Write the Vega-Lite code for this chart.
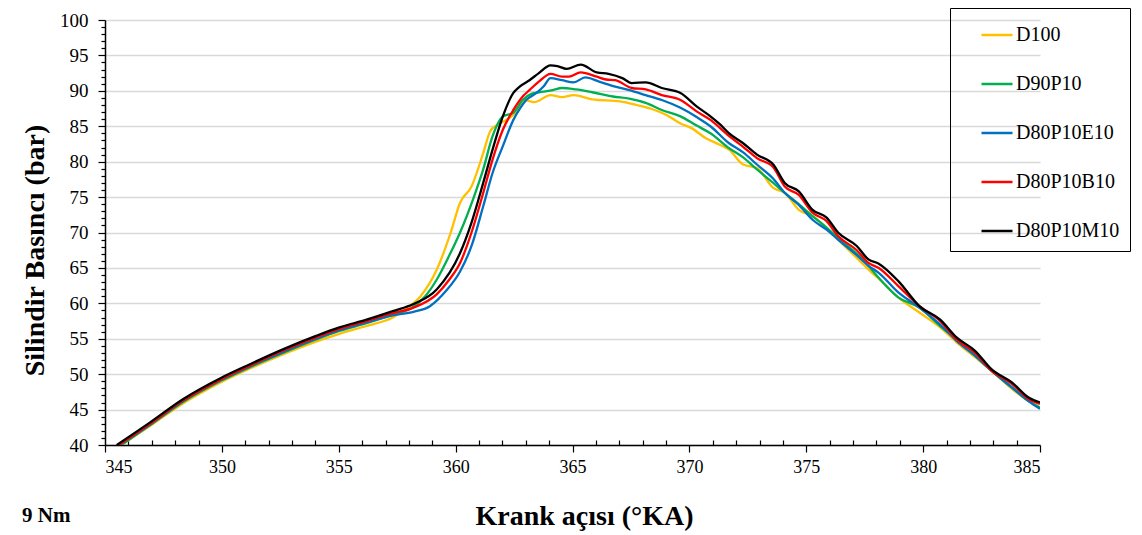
{
  "$schema": "https://vega.github.io/schema/vega-lite/v6.json",
  "width": 935,
  "height": 425,
  "autosize": "none",
  "padding": {"left": 105, "top": 20, "right": 102, "bottom": 90},
  "background": "white",
  "config": {"view": {"stroke": null}, "font": "'Liberation Serif', 'Times New Roman', serif"},
  "title": {"text": "9 Nm", "orient": "bottom", "anchor": "start", "frame": "group", "font": "'Liberation Serif', 'Times New Roman', serif", "fontSize": 21, "fontWeight": "bold", "color": "black", "baseline": "alphabetic", "dx": -83, "dy": -8, "offset": 0},
  "data": {"values": [
    {"fuel":"D100","angle":345.7,"pressure":40},{"fuel":"D100","angle":346.93,"pressure":42.7},{"fuel":"D100","angle":348.35,"pressure":45.9},{"fuel":"D100","angle":349.98,"pressure":48.9},{"fuel":"D100","angle":351.2,"pressure":50.8},{"fuel":"D100","angle":352.61,"pressure":52.8},{"fuel":"D100","angle":354.03,"pressure":54.6},{"fuel":"D100","angle":355.03,"pressure":55.7},{"fuel":"D100","angle":356.19,"pressure":56.8},{"fuel":"D100","angle":357.31,"pressure":58.0},{"fuel":"D100","angle":358.0,"pressure":59.5},{"fuel":"D100","angle":358.5,"pressure":61.0},{"fuel":"D100","angle":359.2,"pressure":64.8},{"fuel":"D100","angle":359.79,"pressure":70.0},{"fuel":"D100","angle":360.19,"pressure":74.2},{"fuel":"D100","angle":360.68,"pressure":76.5},{"fuel":"D100","angle":361.18,"pressure":81.2},{"fuel":"D100","angle":361.48,"pressure":84.3},{"fuel":"D100","angle":361.78,"pressure":85.2},{"fuel":"D100","angle":362.17,"pressure":85.9},{"fuel":"D100","angle":362.57,"pressure":86.9},{"fuel":"D100","angle":362.97,"pressure":88.7},{"fuel":"D100","angle":363.36,"pressure":88.4},{"fuel":"D100","angle":364.06,"pressure":89.4},{"fuel":"D100","angle":364.55,"pressure":89.1},{"fuel":"D100","angle":365.05,"pressure":89.4},{"fuel":"D100","angle":365.84,"pressure":88.8},{"fuel":"D100","angle":367.03,"pressure":88.5},{"fuel":"D100","angle":367.73,"pressure":88.0},{"fuel":"D100","angle":368.42,"pressure":87.4},{"fuel":"D100","angle":369.02,"pressure":86.6},{"fuel":"D100","angle":369.62,"pressure":85.4},{"fuel":"D100","angle":370.11,"pressure":84.7},{"fuel":"D100","angle":370.71,"pressure":83.3},{"fuel":"D100","angle":371.3,"pressure":82.4},{"fuel":"D100","angle":371.7,"pressure":81.7},{"fuel":"D100","angle":372.3,"pressure":79.6},{"fuel":"D100","angle":372.89,"pressure":79.1},{"fuel":"D100","angle":373.59,"pressure":76.3},{"fuel":"D100","angle":374.08,"pressure":75.6},{"fuel":"D100","angle":374.68,"pressure":73.2},{"fuel":"D100","angle":375.27,"pressure":72.3},{"fuel":"D100","angle":376.36,"pressure":69.0},{"fuel":"D100","angle":377.66,"pressure":64.8},{"fuel":"D100","angle":378.35,"pressure":62.7},{"fuel":"D100","angle":378.95,"pressure":60.8},{"fuel":"D100","angle":379.84,"pressure":58.7},{"fuel":"D100","angle":380.73,"pressure":56.6},{"fuel":"D100","angle":381.43,"pressure":54.5},{"fuel":"D100","angle":382.22,"pressure":52.4},{"fuel":"D100","angle":382.92,"pressure":50.5},{"fuel":"D100","angle":383.81,"pressure":47.9},{"fuel":"D100","angle":384.51,"pressure":46.2},{"fuel":"D100","angle":385,"pressure":45.3},

    {"fuel":"D90P10","angle":345.7,"pressure":40},{"fuel":"D90P10","angle":346.93,"pressure":42.8},{"fuel":"D90P10","angle":348.35,"pressure":46.1},{"fuel":"D90P10","angle":349.98,"pressure":49.1},{"fuel":"D90P10","angle":351.2,"pressure":51.0},{"fuel":"D90P10","angle":352.61,"pressure":53.0},{"fuel":"D90P10","angle":354.03,"pressure":54.9},{"fuel":"D90P10","angle":355.03,"pressure":56.1},{"fuel":"D90P10","angle":356.19,"pressure":57.2},{"fuel":"D90P10","angle":357.31,"pressure":58.4},{"fuel":"D90P10","angle":358.1,"pressure":59.3},{"fuel":"D90P10","angle":358.7,"pressure":61.0},{"fuel":"D90P10","angle":359.2,"pressure":63.4},{"fuel":"D90P10","angle":359.69,"pressure":66.5},{"fuel":"D90P10","angle":360.19,"pressure":70.0},{"fuel":"D90P10","angle":360.78,"pressure":75.0},{"fuel":"D90P10","angle":361.18,"pressure":78.9},{"fuel":"D90P10","angle":361.58,"pressure":83.6},{"fuel":"D90P10","angle":362.02,"pressure":86.4},{"fuel":"D90P10","angle":362.47,"pressure":86.9},{"fuel":"D90P10","angle":362.87,"pressure":88.7},{"fuel":"D90P10","angle":363.26,"pressure":89.6},{"fuel":"D90P10","angle":363.56,"pressure":89.8},{"fuel":"D90P10","angle":364.16,"pressure":90.1},{"fuel":"D90P10","angle":364.55,"pressure":90.4},{"fuel":"D90P10","angle":365.15,"pressure":90.2},{"fuel":"D90P10","angle":365.84,"pressure":89.8},{"fuel":"D90P10","angle":366.73,"pressure":89.2},{"fuel":"D90P10","angle":367.43,"pressure":88.9},{"fuel":"D90P10","angle":368.13,"pressure":88.3},{"fuel":"D90P10","angle":368.82,"pressure":87.3},{"fuel":"D90P10","angle":369.62,"pressure":86.4},{"fuel":"D90P10","angle":370.31,"pressure":85.1},{"fuel":"D90P10","angle":370.9,"pressure":84.0},{"fuel":"D90P10","angle":371.7,"pressure":81.9},{"fuel":"D90P10","angle":372.3,"pressure":80.6},{"fuel":"D90P10","angle":372.89,"pressure":78.9},{"fuel":"D90P10","angle":373.59,"pressure":77.0},{"fuel":"D90P10","angle":374.08,"pressure":75.6},{"fuel":"D90P10","angle":374.68,"pressure":74.0},{"fuel":"D90P10","angle":375.27,"pressure":72.3},{"fuel":"D90P10","angle":375.87,"pressure":70.7},{"fuel":"D90P10","angle":376.36,"pressure":69.2},{"fuel":"D90P10","angle":377.16,"pressure":67.0},{"fuel":"D90P10","angle":377.66,"pressure":65.3},{"fuel":"D90P10","angle":378.1,"pressure":63.6},{"fuel":"D90P10","angle":378.95,"pressure":60.8},{"fuel":"D90P10","angle":379.84,"pressure":59.4},{"fuel":"D90P10","angle":380.73,"pressure":56.8},{"fuel":"D90P10","angle":381.43,"pressure":54.9},{"fuel":"D90P10","angle":382.22,"pressure":52.6},{"fuel":"D90P10","angle":382.92,"pressure":50.5},{"fuel":"D90P10","angle":383.81,"pressure":48.1},{"fuel":"D90P10","angle":384.51,"pressure":46.2},{"fuel":"D90P10","angle":385,"pressure":45.3},

    {"fuel":"D80P10E10","angle":345.6,"pressure":40},{"fuel":"D80P10E10","angle":346.93,"pressure":42.9},{"fuel":"D80P10E10","angle":348.35,"pressure":46.2},{"fuel":"D80P10E10","angle":349.98,"pressure":49.2},{"fuel":"D80P10E10","angle":351.2,"pressure":51.1},{"fuel":"D80P10E10","angle":352.61,"pressure":53.1},{"fuel":"D80P10E10","angle":354.03,"pressure":55.0},{"fuel":"D80P10E10","angle":355.03,"pressure":56.2},{"fuel":"D80P10E10","angle":356.19,"pressure":57.3},{"fuel":"D80P10E10","angle":357.31,"pressure":58.3},{"fuel":"D80P10E10","angle":358.2,"pressure":58.8},{"fuel":"D80P10E10","angle":358.9,"pressure":59.6},{"fuel":"D80P10E10","angle":359.6,"pressure":61.8},{"fuel":"D80P10E10","angle":360.19,"pressure":64.5},{"fuel":"D80P10E10","angle":360.68,"pressure":68.1},{"fuel":"D80P10E10","angle":361.18,"pressure":73.7},{"fuel":"D80P10E10","angle":361.58,"pressure":78.4},{"fuel":"D80P10E10","angle":362.02,"pressure":82.2},{"fuel":"D80P10E10","angle":362.47,"pressure":85.9},{"fuel":"D80P10E10","angle":362.77,"pressure":87.6},{"fuel":"D80P10E10","angle":363.02,"pressure":88.7},{"fuel":"D80P10E10","angle":363.46,"pressure":89.7},{"fuel":"D80P10E10","angle":363.76,"pressure":90.6},{"fuel":"D80P10E10","angle":364.06,"pressure":91.8},{"fuel":"D80P10E10","angle":364.55,"pressure":91.5},{"fuel":"D80P10E10","angle":365.05,"pressure":91.2},{"fuel":"D80P10E10","angle":365.55,"pressure":91.9},{"fuel":"D80P10E10","angle":366.14,"pressure":91.3},{"fuel":"D80P10E10","angle":366.83,"pressure":90.6},{"fuel":"D80P10E10","angle":367.43,"pressure":90.1},{"fuel":"D80P10E10","angle":368.13,"pressure":89.4},{"fuel":"D80P10E10","angle":368.82,"pressure":88.7},{"fuel":"D80P10E10","angle":369.62,"pressure":87.6},{"fuel":"D80P10E10","angle":370.31,"pressure":86.3},{"fuel":"D80P10E10","angle":370.9,"pressure":85.0},{"fuel":"D80P10E10","angle":371.7,"pressure":82.6},{"fuel":"D80P10E10","angle":372.3,"pressure":81.3},{"fuel":"D80P10E10","angle":372.89,"pressure":79.6},{"fuel":"D80P10E10","angle":373.59,"pressure":77.6},{"fuel":"D80P10E10","angle":374.08,"pressure":75.6},{"fuel":"D80P10E10","angle":374.68,"pressure":73.9},{"fuel":"D80P10E10","angle":375.27,"pressure":71.8},{"fuel":"D80P10E10","angle":375.87,"pressure":70.4},{"fuel":"D80P10E10","angle":376.36,"pressure":69.0},{"fuel":"D80P10E10","angle":377.16,"pressure":66.8},{"fuel":"D80P10E10","angle":377.66,"pressure":65.3},{"fuel":"D80P10E10","angle":378.1,"pressure":64.3},{"fuel":"D80P10E10","angle":378.95,"pressure":61.5},{"fuel":"D80P10E10","angle":379.84,"pressure":59.4},{"fuel":"D80P10E10","angle":380.73,"pressure":57.0},{"fuel":"D80P10E10","angle":381.43,"pressure":54.7},{"fuel":"D80P10E10","angle":382.22,"pressure":52.6},{"fuel":"D80P10E10","angle":382.92,"pressure":50.5},{"fuel":"D80P10E10","angle":383.81,"pressure":48.1},{"fuel":"D80P10E10","angle":384.51,"pressure":46.2},{"fuel":"D80P10E10","angle":385,"pressure":45.1},

    {"fuel":"D80P10B10","angle":345.6,"pressure":40},{"fuel":"D80P10B10","angle":346.93,"pressure":43.0},{"fuel":"D80P10B10","angle":348.35,"pressure":46.3},{"fuel":"D80P10B10","angle":349.98,"pressure":49.3},{"fuel":"D80P10B10","angle":351.2,"pressure":51.2},{"fuel":"D80P10B10","angle":352.61,"pressure":53.3},{"fuel":"D80P10B10","angle":354.03,"pressure":55.2},{"fuel":"D80P10B10","angle":355.03,"pressure":56.4},{"fuel":"D80P10B10","angle":356.19,"pressure":57.5},{"fuel":"D80P10B10","angle":357.31,"pressure":58.6},{"fuel":"D80P10B10","angle":358.2,"pressure":59.4},{"fuel":"D80P10B10","angle":359.2,"pressure":61.3},{"fuel":"D80P10B10","angle":359.74,"pressure":63.4},{"fuel":"D80P10B10","angle":360.19,"pressure":65.7},{"fuel":"D80P10B10","angle":360.68,"pressure":70.0},{"fuel":"D80P10B10","angle":361.18,"pressure":75.6},{"fuel":"D80P10B10","angle":361.58,"pressure":80.3},{"fuel":"D80P10B10","angle":362.02,"pressure":84.5},{"fuel":"D80P10B10","angle":362.47,"pressure":87.3},{"fuel":"D80P10B10","angle":362.87,"pressure":89.2},{"fuel":"D80P10B10","angle":363.16,"pressure":90.1},{"fuel":"D80P10B10","angle":363.56,"pressure":91.3},{"fuel":"D80P10B10","angle":364.06,"pressure":92.4},{"fuel":"D80P10B10","angle":364.55,"pressure":92.0},{"fuel":"D80P10B10","angle":364.85,"pressure":92.0},{"fuel":"D80P10B10","angle":365.35,"pressure":92.6},{"fuel":"D80P10B10","angle":366.04,"pressure":92.0},{"fuel":"D80P10B10","angle":366.44,"pressure":91.6},{"fuel":"D80P10B10","angle":366.83,"pressure":91.5},{"fuel":"D80P10B10","angle":367.53,"pressure":90.4},{"fuel":"D80P10B10","angle":368.13,"pressure":90.2},{"fuel":"D80P10B10","angle":368.82,"pressure":89.4},{"fuel":"D80P10B10","angle":369.62,"pressure":88.7},{"fuel":"D80P10B10","angle":370.31,"pressure":87.1},{"fuel":"D80P10B10","angle":370.9,"pressure":85.9},{"fuel":"D80P10B10","angle":371.7,"pressure":83.6},{"fuel":"D80P10B10","angle":372.3,"pressure":82.1},{"fuel":"D80P10B10","angle":372.89,"pressure":80.5},{"fuel":"D80P10B10","angle":373.59,"pressure":79.2},{"fuel":"D80P10B10","angle":374.08,"pressure":76.5},{"fuel":"D80P10B10","angle":374.68,"pressure":75.3},{"fuel":"D80P10B10","angle":375.27,"pressure":72.8},{"fuel":"D80P10B10","angle":375.87,"pressure":71.6},{"fuel":"D80P10B10","angle":376.36,"pressure":69.5},{"fuel":"D80P10B10","angle":377.16,"pressure":67.5},{"fuel":"D80P10B10","angle":377.66,"pressure":65.7},{"fuel":"D80P10B10","angle":378.1,"pressure":65.0},{"fuel":"D80P10B10","angle":378.95,"pressure":62.4},{"fuel":"D80P10B10","angle":379.84,"pressure":59.6},{"fuel":"D80P10B10","angle":380.73,"pressure":57.5},{"fuel":"D80P10B10","angle":381.43,"pressure":54.9},{"fuel":"D80P10B10","angle":382.22,"pressure":53.0},{"fuel":"D80P10B10","angle":382.92,"pressure":50.5},{"fuel":"D80P10B10","angle":383.81,"pressure":48.6},{"fuel":"D80P10B10","angle":384.51,"pressure":46.5},{"fuel":"D80P10B10","angle":385,"pressure":45.8},

    {"fuel":"D80P10M10","angle":345.5,"pressure":40},{"fuel":"D80P10M10","angle":346.93,"pressure":43.2},{"fuel":"D80P10M10","angle":348.35,"pressure":46.5},{"fuel":"D80P10M10","angle":349.98,"pressure":49.5},{"fuel":"D80P10M10","angle":351.2,"pressure":51.4},{"fuel":"D80P10M10","angle":352.61,"pressure":53.5},{"fuel":"D80P10M10","angle":354.03,"pressure":55.4},{"fuel":"D80P10M10","angle":355.03,"pressure":56.6},{"fuel":"D80P10M10","angle":356.19,"pressure":57.7},{"fuel":"D80P10M10","angle":357.31,"pressure":58.9},{"fuel":"D80P10M10","angle":358.2,"pressure":59.9},{"fuel":"D80P10M10","angle":359.2,"pressure":62.0},{"fuel":"D80P10M10","angle":360.19,"pressure":67.1},{"fuel":"D80P10M10","angle":360.68,"pressure":71.4},{"fuel":"D80P10M10","angle":361.18,"pressure":77.0},{"fuel":"D80P10M10","angle":361.58,"pressure":81.7},{"fuel":"D80P10M10","angle":362.02,"pressure":86.4},{"fuel":"D80P10M10","angle":362.47,"pressure":89.7},{"fuel":"D80P10M10","angle":362.74,"pressure":90.6},{"fuel":"D80P10M10","angle":363.16,"pressure":91.5},{"fuel":"D80P10M10","angle":363.56,"pressure":92.5},{"fuel":"D80P10M10","angle":364.06,"pressure":93.6},{"fuel":"D80P10M10","angle":364.35,"pressure":93.5},{"fuel":"D80P10M10","angle":364.75,"pressure":93.1},{"fuel":"D80P10M10","angle":365.35,"pressure":93.7},{"fuel":"D80P10M10","angle":366.04,"pressure":92.6},{"fuel":"D80P10M10","angle":366.54,"pressure":92.4},{"fuel":"D80P10M10","angle":367.13,"pressure":91.8},{"fuel":"D80P10M10","angle":367.53,"pressure":91.1},{"fuel":"D80P10M10","angle":368.13,"pressure":91.2},{"fuel":"D80P10M10","angle":368.82,"pressure":90.4},{"fuel":"D80P10M10","angle":369.62,"pressure":89.7},{"fuel":"D80P10M10","angle":370.31,"pressure":87.8},{"fuel":"D80P10M10","angle":370.9,"pressure":86.4},{"fuel":"D80P10M10","angle":371.3,"pressure":85.3},{"fuel":"D80P10M10","angle":371.7,"pressure":84.0},{"fuel":"D80P10M10","angle":372.3,"pressure":82.6},{"fuel":"D80P10M10","angle":372.89,"pressure":81.0},{"fuel":"D80P10M10","angle":373.59,"pressure":79.6},{"fuel":"D80P10M10","angle":374.08,"pressure":77.0},{"fuel":"D80P10M10","angle":374.68,"pressure":75.8},{"fuel":"D80P10M10","angle":375.27,"pressure":73.2},{"fuel":"D80P10M10","angle":375.87,"pressure":72.1},{"fuel":"D80P10M10","angle":376.36,"pressure":70.0},{"fuel":"D80P10M10","angle":377.16,"pressure":68.1},{"fuel":"D80P10M10","angle":377.66,"pressure":66.2},{"fuel":"D80P10M10","angle":378.1,"pressure":65.6},{"fuel":"D80P10M10","angle":378.95,"pressure":63.1},{"fuel":"D80P10M10","angle":379.84,"pressure":59.6},{"fuel":"D80P10M10","angle":380.73,"pressure":57.7},{"fuel":"D80P10M10","angle":381.43,"pressure":55.2},{"fuel":"D80P10M10","angle":382.22,"pressure":53.3},{"fuel":"D80P10M10","angle":382.92,"pressure":50.7},{"fuel":"D80P10M10","angle":383.81,"pressure":48.8},{"fuel":"D80P10M10","angle":384.51,"pressure":46.7},{"fuel":"D80P10M10","angle":385,"pressure":46.0}
  ]},
  "mark": {"type": "line", "interpolate": "monotone", "strokeWidth": 2.3, "clip": true},
  "encoding": {
    "x": {
      "field": "angle", "type": "quantitative",
      "scale": {"domain": [345, 385], "nice": false, "zero": false},
      "axis": {
        "title": "Krank açısı (°KA)",
        "values": [345,346,347,348,349,350,351,352,353,354,355,356,357,358,359,360,361,362,363,364,365,366,367,368,369,370,371,372,373,374,375,376,377,378,379,380,381,382,383,384,385],
        "labelExpr": "datum.value % 5 === 0 ? datum.label : ''",
        "labelOverlap": false,
        "grid": false,
        "domainColor": "black", "domainWidth": 1.5,
        "tickColor": "black", "tickWidth": 1.2,
        "tickSize": {"condition": {"test": "datum.value % 5 === 0", "value": 7}, "value": -5},
        "labelFont": "'Liberation Serif', 'Times New Roman', serif", "labelFontSize": 18, "labelColor": "black", "labelPadding": 6,
        "titleFont": "'Liberation Serif', 'Times New Roman', serif", "titleFontSize": 28, "titleFontWeight": "bold", "titleColor": "black",
        "titleX": 479, "titleY": 79, "titleBaseline": "alphabetic", "titleAlign": "center"
      }
    },
    "y": {
      "field": "pressure", "type": "quantitative",
      "scale": {"domain": [40, 100], "nice": false, "zero": false},
      "axis": {
        "title": "Silindir Basıncı (bar)",
        "values": [40,41,42,43,44,45,46,47,48,49,50,51,52,53,54,55,56,57,58,59,60,61,62,63,64,65,66,67,68,69,70,71,72,73,74,75,76,77,78,79,80,81,82,83,84,85,86,87,88,89,90,91,92,93,94,95,96,97,98,99,100],
        "labelExpr": "datum.value % 5 === 0 ? datum.label : ''",
        "labelOverlap": false,
        "grid": true, "gridColor": "#d9d9d9", "gridWidth": 1.5,
        "gridOpacity": {"condition": {"test": "datum.value % 5 === 0", "value": 1}, "value": 0},
        "domainColor": "black", "domainWidth": 1.5,
        "tickColor": "black", "tickWidth": 1.2,
        "tickSize": {"condition": {"test": "datum.value % 5 === 0", "value": 7}, "value": 4},
        "labelFont": "'Liberation Serif', 'Times New Roman', serif", "labelFontSize": 19, "labelColor": "black", "labelPadding": 10,
        "titleFont": "'Liberation Serif', 'Times New Roman', serif", "titleFontSize": 28, "titleFontWeight": "bold", "titleColor": "black",
        "titleAngle": -90, "titleX": -62, "titleY": 230, "titleBaseline": "alphabetic", "titleAlign": "center"
      }
    },
    "color": {
      "field": "fuel", "type": "nominal",
      "scale": {"domain": ["D100", "D90P10", "D80P10E10", "D80P10B10", "D80P10M10"], "range": ["#FFC000", "#00B050", "#0070C0", "#FF0000", "#000000"]},
      "legend": {
        "orient": "none", "legendX": 845, "legendY": -12, "title": null,
        "symbolType": "stroke", "symbolSize": 961, "symbolStrokeWidth": 2.5, "symbolOffset": 20,
        "labelFont": "'Liberation Serif', 'Times New Roman', serif", "labelFontSize": 20, "labelColor": "black", "labelOffset": 2, "labelLimit": 300,
        "rowPadding": 22, "padding": 10, "strokeColor": "black"
      }
    }
  }
}
